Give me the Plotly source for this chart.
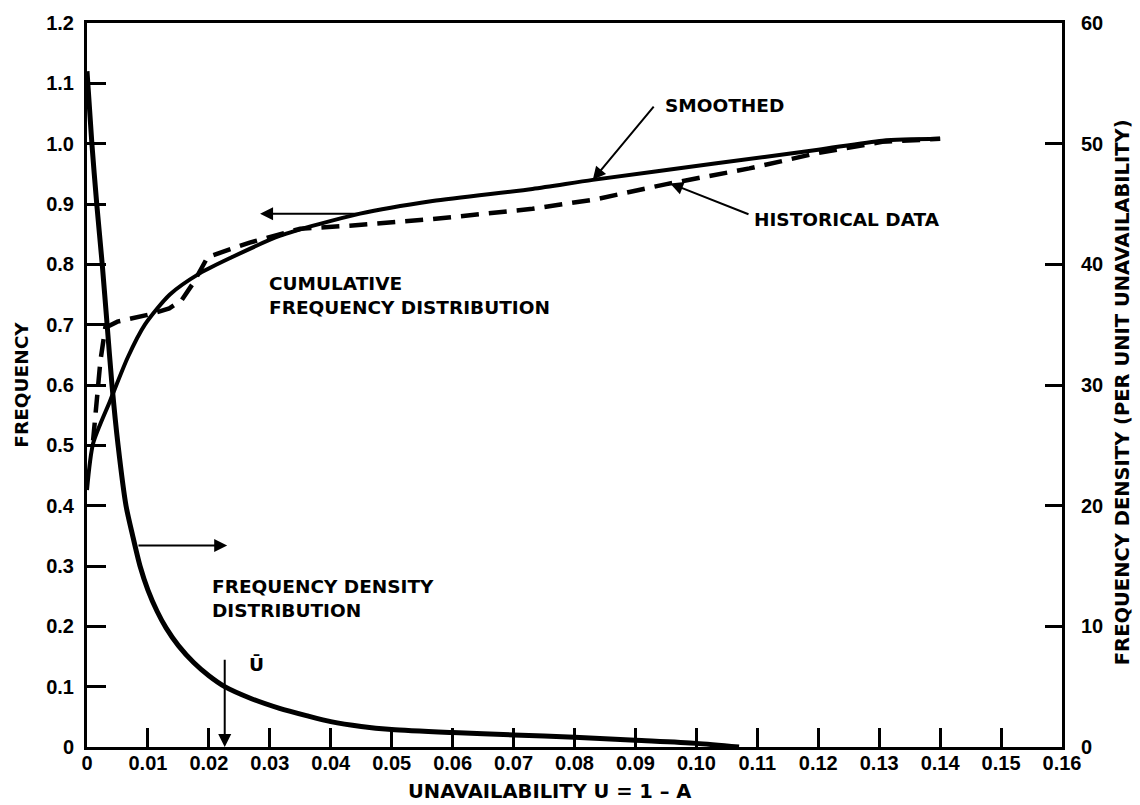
import numpy as np
import plotly.graph_objects as go

# ---------------- data ----------------
# Frequency density distribution (right axis, per unit unavailability)
u_density = [0.0, 0.0008, 0.0016, 0.0025, 0.0033, 0.0041, 0.0051, 0.0064, 0.0075,
             0.0087, 0.0100, 0.0115, 0.013, 0.015, 0.0175, 0.020, 0.0226, 0.027,
             0.0316, 0.036, 0.040, 0.045, 0.05, 0.06, 0.07, 0.08, 0.09, 0.10, 0.107]
density = [56, 50, 45, 40, 35, 30, 25, 20, 17.5,
           15, 13, 11.25, 9.85, 8.4, 7.0, 5.9, 5.0, 4.0,
           3.2, 2.6, 2.1, 1.7, 1.45, 1.2, 1.0, 0.8, 0.55, 0.3, 0.0]

# Cumulative frequency distribution, smoothed (left axis)
u_smooth = [0.0, 0.001, 0.0038, 0.0067, 0.0095, 0.0136, 0.0185, 0.0234, 0.0316,
            0.0448, 0.0567, 0.0731, 0.083, 0.103, 0.12, 0.1305, 0.14]
cum_smooth = [0.426, 0.503, 0.574, 0.646, 0.70, 0.75, 0.785, 0.81, 0.847,
              0.884, 0.905, 0.925, 0.94, 0.967, 0.99, 1.005, 1.008]

# Cumulative frequency distribution, historical data (left axis)
u_hist = [0.001, 0.0022, 0.003, 0.005, 0.0107, 0.0135, 0.0155, 0.0175, 0.0198,
          0.0225, 0.0267, 0.035, 0.0431, 0.0567, 0.0731, 0.0836, 0.0951, 0.1087,
          0.1197, 0.1305, 0.14]
cum_hist = [0.508, 0.64, 0.695, 0.705, 0.718, 0.727, 0.74, 0.77, 0.812,
            0.822, 0.836, 0.859, 0.864, 0.875, 0.892, 0.908, 0.933, 0.959,
            0.984, 1.003, 1.008]

u_mean = 0.0226  # mean unavailability U-bar

x_ticks = [i / 100 for i in range(17)]
x_ticktext = ["0"] + ["%.2f" % v for v in x_ticks[1:]]
y_ticks = [i / 10 for i in range(13)]
y_ticktext = ["0", "0.1", "0.2", "0.3", "0.4", "0.5", "0.6", "0.7", "0.8", "0.9", "1.0", "1.1", "1.2"]
y2_ticks = [0, 10, 20, 30, 40, 50, 60]
y2_ticktext = [str(v) for v in y2_ticks]

# ---------------- figure ----------------
BLACK = "#000000"
tick_font = dict(family="Liberation Sans", size=20, color=BLACK, weight=700)
txt_font = dict(family="DejaVu Sans", size=18.5, color=BLACK, weight=700)

fig = go.Figure()

fig.add_trace(go.Scatter(x=u_density, y=density, yaxis="y2", mode="lines",
                         line=dict(color=BLACK, width=5, shape="spline", smoothing=0.7),
                         hoverinfo="skip", showlegend=False))
fig.add_trace(go.Scatter(x=u_smooth, y=cum_smooth, mode="lines",
                         line=dict(color=BLACK, width=4, shape="spline", smoothing=0.7),
                         hoverinfo="skip", showlegend=False))
fig.add_trace(go.Scatter(x=u_hist, y=cum_hist, mode="lines",
                         line=dict(color=BLACK, width=4.5, dash="18px,10px"),
                         hoverinfo="skip", showlegend=False))

annotations = []

def arrow(xh, yh, xt, yt):
    annotations.append(dict(x=xh, y=yh, ax=xt, ay=yt, xref="x", yref="y",
                            axref="x", ayref="y", showarrow=True, arrowhead=2,
                            arrowsize=1.3, arrowwidth=2, arrowcolor=BLACK, text=""))

def label(x, y, text):
    annotations.append(dict(x=x, y=y, xref="x", yref="y", text=text, showarrow=False,
                            xanchor="left", yanchor="middle", align="left", font=txt_font))

# SMOOTHED
xs = 0.083
arrow(xs, float(np.interp(xs, u_smooth, cum_smooth)), 0.0932, 1.064)
label(0.0945, 1.064, "SMOOTHED")
# HISTORICAL DATA
xh = 0.0957
arrow(xh, float(np.interp(xh, u_hist, cum_hist)), 0.1088, 0.882)
label(0.1091, 0.874, "HISTORICAL DATA")
# arrow from cumulative curve to left axis
xc = 0.0448
yc = float(np.interp(xc, u_smooth, cum_smooth))
arrow(0.0284, yc, xc, yc)
label(0.0295, 0.748, "CUMULATIVE<br>FREQUENCY DISTRIBUTION")
# arrow from density curve to right axis
yd = 0.334
xd = 0.0082
arrow(0.023, yd, xd, yd)
label(0.0202, 0.2456, "FREQUENCY DENSITY<br>DISTRIBUTION")
# U-bar
arrow(u_mean, 0.0, u_mean, 0.147)
label(0.0262, 0.1375, "Ū")

# axis titles
annotations.append(dict(x=-0.068, y=0.5, xref="paper", yref="paper", text="FREQUENCY",
                        textangle=-90, showarrow=False, font=txt_font,
                        xanchor="center", yanchor="middle"))
annotations.append(dict(x=1.0615, y=0.49, xref="paper", yref="paper",
                        text="FREQUENCY DENSITY (PER UNIT UNAVAILABILITY)",
                        textangle=-90, showarrow=False, font=dict(txt_font, size=19.5),
                        xanchor="center", yanchor="middle"))
annotations.append(dict(x=0.474, y=-0.061, xref="paper", yref="paper",
                        text="UNAVAILABILITY U = 1 – A", showarrow=False,
                        font=dict(txt_font, size=19.5),
                        xanchor="center", yanchor="middle"))

axis_common = dict(showgrid=False, zeroline=False, showline=True, linecolor=BLACK,
                   linewidth=3, ticks="inside", tickcolor=BLACK, tickwidth=2.5,
                   tickfont=tick_font)

fig.update_layout(
    width=1140, height=805,
    margin=dict(l=87, r=78, t=14, b=58),
    paper_bgcolor="white", plot_bgcolor="white",
    xaxis=dict(axis_common, range=[0, 0.16], tickvals=x_ticks, ticktext=x_ticktext,
               ticklen=19, mirror=True, ticklabelstandoff=-4),
    yaxis=dict(axis_common, range=[0, 1.2], tickvals=y_ticks, ticktext=y_ticktext,
               ticklen=19, ticklabelstandoff=6),
    yaxis2=dict(axis_common, range=[0, 60], tickvals=y2_ticks, ticktext=y2_ticktext,
                overlaying="y", side="right", ticklen=17, ticklabelstandoff=12),
    annotations=annotations,
)

fig.write_html("out.html")
